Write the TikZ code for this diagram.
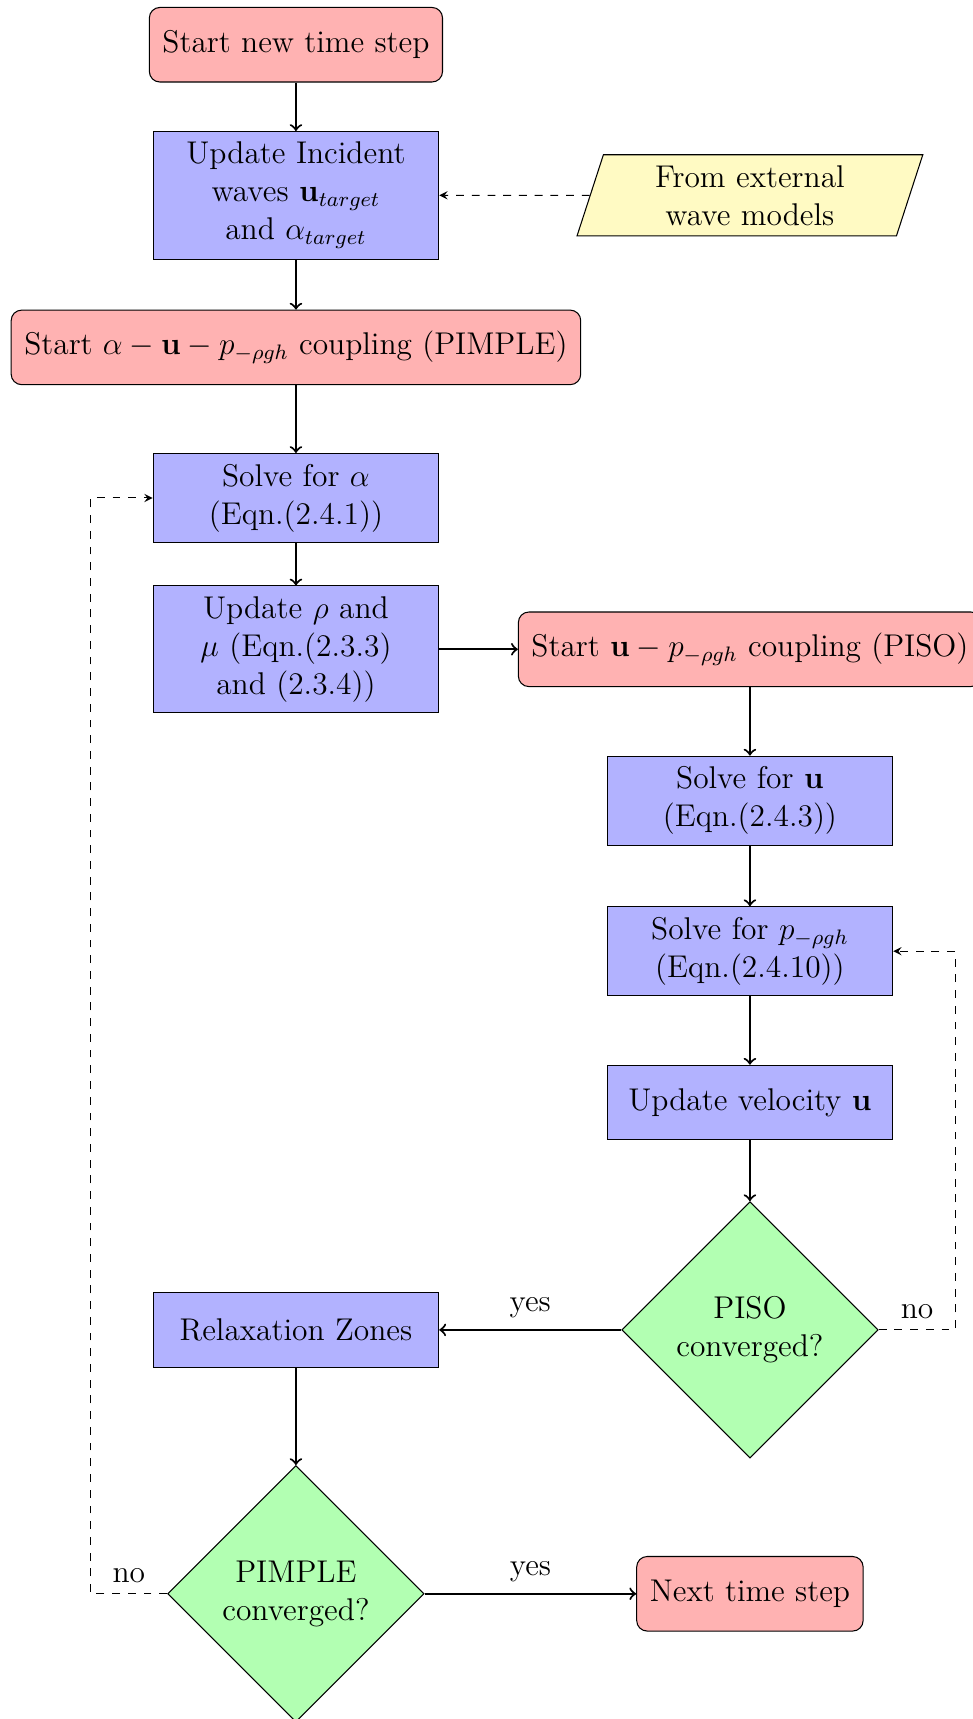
\documentclass[tikz,border=0pt,12pt]{standalone}
\usepackage{amsmath}
\usepackage{tikz}
\usetikzlibrary{shapes.geometric}
\usetikzlibrary{arrows}
\definecolor{Box-red}{RGB}{255,178,178}
\definecolor{Box-blue}{RGB}{178,178,255}
\definecolor{Box-green}{RGB}{178,255,178}
\definecolor{Box-yellow}{RGB}{255,250,195}

\begin{document}
\begin{tikzpicture}
    \tikzset{ stp/.style ={draw, fill=Box-red, rounded corners=4pt, minimum height=1cm, inner xsep=5pt, align=center} }
    \tikzset{ prc/.style ={draw, fill=Box-blue, minimum height=1cm, text width=3.55cm, align=center} }
    \tikzset{ dcs/.style ={draw, fill=Box-green, diamond, aspect=1, minimum width=3.44cm, minimum height=3.44cm, inner sep=0pt, text width=2.3cm, align=center} }
    \tikzset{ inp/.style ={draw, fill=Box-yellow, trapezium, trapezium left angle=72, trapezium right angle=108, trapezium stretches=true, text width=3.65cm, minimum height=1.07cm, align=center} }

    \useasboundingbox (0,0) rectangle (13.04,-23.06);

    \node[stp] (start) at ( 3.97, -0.60) {Start new time step};
    \node[prc] (upd)   at ( 3.97, -2.62) {Update Incident\\waves $\mathbf{u}_{target}$\\and $\alpha_{target}$};
    \node[inp] (ext)   at (10.06, -2.62) {From external\\wave models};
    \node[stp] (pim)   at ( 3.97, -4.66) {Start $\alpha - \mathbf{u} - p_{-\rho g h}$ coupling (PIMPLE)};
    \node[prc] (alp)   at ( 3.97, -6.68) {Solve for $\alpha$\\(Eqn.(2.4.1))};
    \node[prc] (rho)   at ( 3.97, -8.71) {Update $\rho$ and\\$\mu$ (Eqn.(2.3.3)\\and (2.3.4))};
    \node[stp] (pis)   at (10.06, -8.71) {Start $\mathbf{u} - p_{-\rho g h}$ coupling (PISO)};
    \node[prc] (slu)   at (10.06,-10.74) {Solve for $\mathbf{u}$\\(Eqn.(2.4.3))};
    \node[prc] (slp)   at (10.06,-12.76) {Solve for $p_{-\rho g h}$\\(Eqn.(2.4.10))};
    \node[prc] (vel)   at (10.06,-14.79) {Update velocity $\mathbf{u}$};
    \node[dcs] (pisc)  at (10.06,-17.84) {PISO\\converged?};
    \node[prc] (rlx)   at ( 3.97,-17.84) {Relaxation Zones};
    \node[dcs] (pimc)  at ( 3.97,-21.38) {PIMPLE\\converged?};
    \node[stp] (nxt)   at (10.06,-21.38) {Next time step};

    \draw[->,thick]            (start) -- (upd);
    \draw[->,>=stealth,dashed] (ext)   -- (upd);
    \draw[->,thick]            (upd)   -- (pim);
    \draw[->,thick]            (pim)   -- (alp);
    \draw[->,thick]            (alp)   -- (rho);
    \draw[->,thick]            (rho)   -- (pis);
    \draw[->,thick]            (pis)   -- (slu);
    \draw[->,thick]            (slu)   -- (slp);
    \draw[->,thick]            (slp)   -- (vel);
    \draw[->,thick]            (vel)   -- (pisc);
    \draw[->,thick]            (pisc)  -- (rlx)  node [midway, above] {yes};
    \draw[->,thick]            (rlx)   -- (pimc);
    \draw[->,thick]            (pimc)  -- (nxt)  node [midway, above] {yes};
    \draw[->,>=stealth,dashed] (pisc.east) -- ++( 1.03,0) node [midway, above] {no} |- (slp.east);
    \draw[->,>=stealth,dashed] (pimc.west) -- ++(-1.03,0) node [midway, above] {no} |- (alp.west);

\end{tikzpicture}
\end{document}
